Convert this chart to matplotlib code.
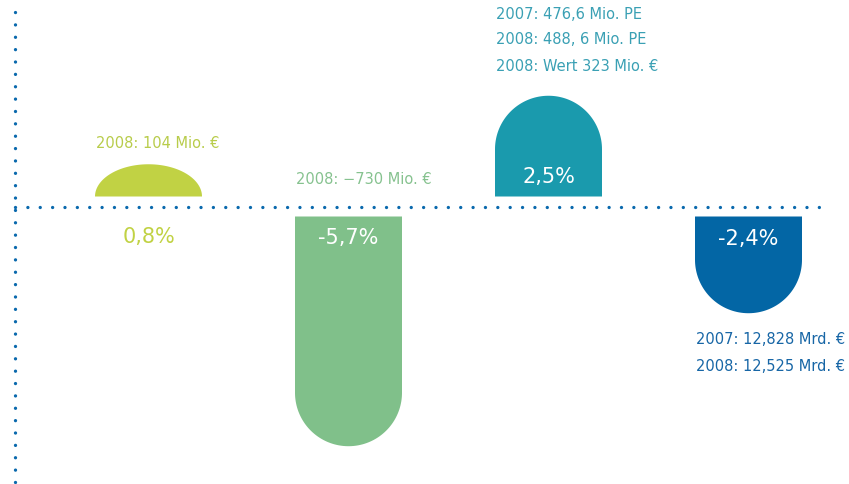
import numpy as np
import matplotlib
matplotlib.use("Agg")
import matplotlib.pyplot as plt

# ----------------------------------------------------------------------------
# Data
# ----------------------------------------------------------------------------
values = [0.8, -5.7, 2.5, -2.4]
pct_labels = ["0,8%", "-5,7%", "2,5%", "-2,4%"]
notes = [["2008: 104 Mio. \u20ac"],
         ["2008: \u2212730 Mio. \u20ac"],
         ["2007: 476,6 Mio. PE", "2008: 488, 6 Mio. PE", "2008: Wert 323 Mio. \u20ac"],
         ["2007: 12,828 Mrd. \u20ac", "2008: 12,525 Mrd. \u20ac"]]
bar_colors = ["#c1d244", "#80c08a", "#1a9aad", "#0366a5"]
note_colors = ["#b8cc4a", "#86c28f", "#3aa0b4", "#1766a6"]
dot_color = "#0a69ad"

plt.rcParams['font.family'] = ['Liberation Sans Narrow', 'DejaVu Sans']

# ----------------------------------------------------------------------------
# Layout (pixel based, 849x485)
# ----------------------------------------------------------------------------
W, H = 849, 485
PX_X = 200.0          # pixels per category
X0 = 148.5            # pixel centre of first bar
PX_Y = 40.3           # pixels per percent
Y0 = 207.5            # pixel row of zero line
GAP = 10 / PX_Y       # gap between zero line and bars
HALF_W = 53.5 / PX_X  # half bar width
CAP_H = 53.5 / PX_Y   # height of round cap

fig = plt.figure(figsize=(W / 100, H / 100), dpi=100)
ax = fig.add_axes([0, 0, 1, 1])
ax.set_xlim(-X0 / PX_X, (W - X0) / PX_X)
ax.set_ylim(-(H - Y0) / PX_Y, Y0 / PX_Y)
ax.axis("off")

# dotted axes
dots = dict(color=dot_color, lw=2.4, linestyle=(0, (0.01, 3.7)),
            dash_capstyle="round")
x_axis = (15 - X0) / PX_X
ax.axhline(0, xmin=15 / W, xmax=830 / W, **dots)
ax.axvline(x_axis, ymin=(H - 483) / H, ymax=(H - 11) / H, **dots)

t = np.linspace(0, np.pi, 80)
for i, v in enumerate(values):
    s = np.sign(v)
    base = s * GAP
    h = abs(v)
    rect = max(h - CAP_H, 0)
    cap = min(h, CAP_H)
    xs = np.concatenate([[i + HALF_W], i + HALF_W * np.cos(t), [i - HALF_W]])
    ys = np.concatenate([[base], base + s * (rect + cap * np.sin(t)), [base]])
    ax.fill(xs, ys, color=bar_colors[i], lw=0)

# percent labels
pct_y = [-30 / PX_Y, -31 / PX_Y, 30 / PX_Y, -32 / PX_Y]
pct_col = [bar_colors[0], "white", "white", "white"]
for i, lab in enumerate(pct_labels):
    ax.text(i, pct_y[i], lab, ha="center", va="center", fontsize=15,
            color=pct_col[i])

# notes
note_y = [[63.5], [27.5], [192.5, 167.5, 140.5], [-132.5, -159.5]]
for i, lines in enumerate(notes):
    for j, line in enumerate(lines):
        ax.text(i - HALF_W + 1 / PX_X, note_y[i][j] / PX_Y, line,
                ha="left", va="center", fontsize=10.5, color=note_colors[i])

fig.savefig("out.png", dpi=100)
